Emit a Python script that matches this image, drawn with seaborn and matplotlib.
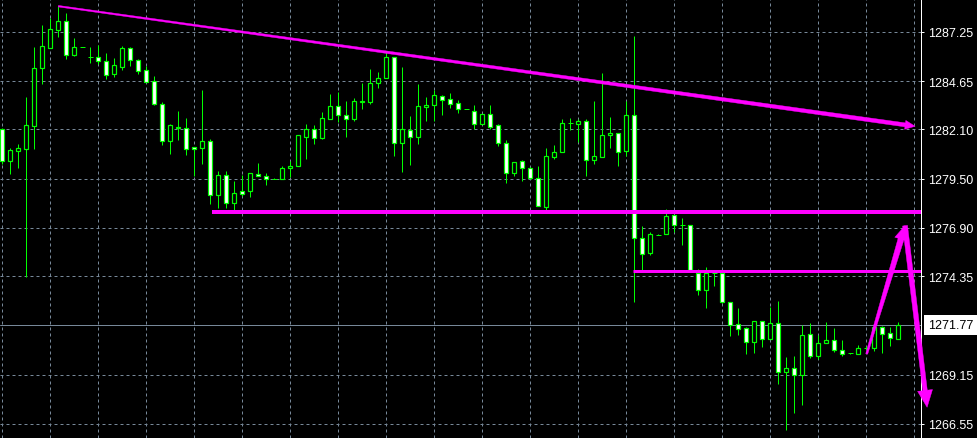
"""
Candlestick chart (MT4 style, green on black) with hand-drawn trend and
support lines plus the two projected-move arrows.
"""
import numpy as np
import pandas as pd
import matplotlib
matplotlib.use("Agg")
import matplotlib.pyplot as plt
from matplotlib.patches import Polygon
from matplotlib.transforms import IdentityTransform
import seaborn as sns

# ---- candles ----
opens = [1282.13, 1280.45, 1280.98, 1281.09, 1282.30, 1285.35, 1286.42, 1287.37, 1287.82, 1286.05,
         1286.44, 1285.91, 1285.91, 1285.70, 1285.05, 1285.42, 1286.40, 1285.77, 1285.24, 1284.66,
         1283.45, 1281.48, 1282.18, 1282.17, 1281.16, 1281.14, 1281.48, 1278.66, 1279.68, 1278.24,
         1278.84, 1278.84, 1279.74, 1279.63, 1279.49, 1279.47, 1280.05, 1280.16, 1281.72, 1282.11,
         1281.64, 1282.64, 1283.33, 1282.85, 1282.64, 1283.54, 1283.54, 1284.54, 1284.80, 1285.91,
         1281.37, 1282.06, 1281.69, 1283.27, 1283.38, 1283.85, 1283.70, 1283.48, 1283.17, 1283.09,
         1282.37, 1282.90, 1282.32, 1281.37, 1279.79, 1280.42, 1280.05, 1279.52, 1277.99, 1280.66,
         1280.90, 1282.43, 1282.37, 1282.53, 1280.47, 1280.63, 1281.80, 1281.90, 1280.95, 1282.85,
         1276.36, 1275.56, 1276.51, 1276.60, 1277.57, 1277.04, 1277.04, 1274.51, 1273.61, 1274.51,
         1274.51, 1272.98, 1271.81, 1271.60, 1270.86, 1271.97, 1271.02, 1271.87, 1269.28, 1269.49,
         1269.12, 1271.29, 1270.13, 1270.81, 1270.97, 1270.44, 1270.28, 1270.23, 1270.58, 1270.58,
         1271.66, 1271.34, 1271.02]
highs = [1282.20, 1281.12, 1281.33, 1283.83, 1286.47, 1287.62, 1287.99, 1288.61, 1288.25, 1286.93,
         1286.44, 1286.47, 1286.58, 1286.14, 1285.88, 1286.51, 1286.47, 1285.83, 1285.45, 1284.91,
         1283.57, 1282.39, 1283.09, 1282.71, 1281.16, 1284.19, 1281.60, 1279.89, 1279.89, 1279.37,
         1279.68, 1279.79, 1280.33, 1279.79, 1279.54, 1280.17, 1280.44, 1281.80, 1282.39, 1282.34,
         1283.03, 1283.98, 1284.10, 1283.61, 1283.75, 1284.56, 1285.28, 1285.14, 1286.26, 1285.91,
         1285.40, 1282.80, 1284.49, 1283.80, 1284.17, 1283.91, 1284.03, 1283.66, 1283.17, 1283.38,
         1282.90, 1283.38, 1282.37, 1281.55, 1280.37, 1280.49, 1280.11, 1280.16, 1281.11, 1281.28,
         1282.64, 1282.69, 1282.64, 1282.64, 1283.59, 1285.08, 1282.75, 1281.90, 1283.59, 1287.04,
         1277.00, 1276.67, 1276.57, 1277.89, 1277.57, 1277.41, 1277.04, 1274.72, 1274.82, 1274.56,
         1274.51, 1272.98, 1272.68, 1271.66, 1271.97, 1271.97, 1272.71, 1273.04, 1270.07, 1270.13,
         1271.76, 1271.88, 1271.23, 1271.92, 1271.60, 1270.97, 1270.28, 1270.70, 1270.65, 1271.71,
         1271.71, 1271.66, 1271.92]
lows = [1280.28, 1279.75, 1280.07, 1274.30, 1281.09, 1284.50, 1286.42, 1287.00, 1285.83, 1285.98,
        1286.44, 1285.63, 1285.56, 1284.77, 1284.87, 1285.26, 1285.47, 1285.03, 1284.61, 1283.40,
        1281.30, 1280.81, 1281.56, 1280.77, 1279.63, 1280.28, 1278.17, 1277.96, 1277.96, 1277.85,
        1278.59, 1278.52, 1279.63, 1279.19, 1279.47, 1279.47, 1279.58, 1280.16, 1280.56, 1281.33,
        1281.58, 1282.64, 1282.48, 1281.72, 1282.53, 1283.20, 1283.45, 1284.31, 1284.80, 1280.72,
        1279.87, 1280.24, 1281.35, 1282.57, 1282.53, 1282.88, 1283.22, 1282.96, 1283.17, 1282.11,
        1282.37, 1282.14, 1281.25, 1279.26, 1279.66, 1279.40, 1279.49, 1278.05, 1277.87, 1280.56,
        1280.90, 1282.06, 1281.46, 1279.63, 1280.30, 1280.63, 1281.11, 1280.19, 1280.69, 1273.01,
        1274.68, 1275.46, 1276.51, 1276.57, 1276.67, 1276.02, 1274.67, 1273.38, 1272.69, 1273.85,
        1272.92, 1271.21, 1271.27, 1270.26, 1270.32, 1270.63, 1271.02, 1268.66, 1266.24, 1267.15,
        1267.57, 1270.02, 1269.97, 1270.81, 1270.34, 1270.16, 1270.23, 1270.23, 1270.47, 1270.42,
        1270.28, 1270.66, 1271.02]
closes = [1280.45, 1281.02, 1281.12, 1282.34, 1285.35, 1286.51, 1287.41, 1287.82, 1286.05, 1286.46,
          1286.44, 1285.91, 1285.73, 1284.99, 1285.49, 1286.40, 1285.79, 1285.21, 1284.63, 1283.47,
          1281.48, 1282.32, 1282.23, 1281.06, 1281.06, 1281.48, 1278.63, 1279.68, 1278.20, 1278.73,
          1278.71, 1279.79, 1279.63, 1279.47, 1279.49, 1280.07, 1280.16, 1281.80, 1282.11, 1281.64,
          1282.69, 1283.33, 1282.85, 1282.64, 1283.59, 1283.61, 1284.56, 1284.80, 1285.91, 1281.37,
          1282.11, 1281.69, 1283.33, 1283.38, 1283.91, 1283.64, 1283.43, 1283.17, 1283.17, 1282.37,
          1282.90, 1282.25, 1281.37, 1279.79, 1280.37, 1280.05, 1279.52, 1278.05, 1280.69, 1280.90,
          1282.43, 1282.43, 1282.53, 1280.47, 1280.69, 1281.80, 1281.90, 1280.90, 1282.85, 1276.36,
          1275.51, 1276.57, 1276.51, 1277.52, 1277.04, 1277.04, 1274.67, 1273.61, 1274.51, 1274.51,
          1272.98, 1271.79, 1271.55, 1270.86, 1271.97, 1271.02, 1271.87, 1269.28, 1269.49, 1269.12,
          1271.23, 1270.13, 1270.81, 1270.97, 1270.44, 1270.23, 1270.28, 1270.55, 1270.58, 1271.66,
          1271.29, 1271.07, 1271.77]

price_ticks = [1287.25, 1284.65, 1282.10, 1279.50, 1276.90, 1274.35, 1269.15, 1266.55]
last_price = 1271.77

# ---- drawn objects (bar index, price) ----
trend_x, trend_y = [7.0, 114.1], [1288.61, 1282.27]
support_hi, support_hi_from = 1277.75, 26.2
support_lo, support_lo_from = 1274.61, 78.8
up_x, up_y = [108.05, 112.84], [1270.25, 1277.02]
down_x, down_y = [112.84, 115.6], [1277.02, 1267.43]

LIME, MAGENTA, GRID = "#00ff00", "#ff00ff", "#778899"
PX = 72 / 100  # one pixel in points

df = pd.DataFrame({"open": opens, "high": highs, "low": lows, "close": closes})
df["bar"] = np.arange(len(df))

sns.set_theme(style="dark", rc={"figure.facecolor": "black", "axes.facecolor": "black",
                                "savefig.facecolor": "black"})
plt.rcParams["font.family"] = ["Liberation Sans", "DejaVu Sans"]

fig = plt.figure(figsize=(9.77, 4.39), dpi=100)
ax = fig.add_axes([0, 0, 920.7 / 977, 1])
ax.set_xlim(-0.29, 114.8)
ax.set_ylim(1265.81, 1288.99)

# grid
for p in price_ticks:
    ax.axhline(p, color=GRID, lw=PX, ls=(0, (3, 3)), zorder=0)
for b in range(0, 115, 6):
    ax.axvline(b, color=GRID, lw=PX, ls=(0, (3, 3)), zorder=0)
ax.axhline(last_price, color=GRID, lw=PX, zorder=1)

# candles
ax.vlines(df["bar"], df["low"], df["high"], color=LIME, lw=PX, zorder=2)
body = df[(df["close"] - df["open"]).abs() >= 0.03]
doji = df[(df["close"] - df["open"]).abs() < 0.03]
bear = body["close"] < body["open"]
ax.bar(body["bar"], (body["close"] - body["open"]).abs(),
       bottom=body[["open", "close"]].min(axis=1), width=0.48,
       color=np.where(bear, "white", "black"), edgecolor=LIME, lw=1.2 * PX, zorder=3)
ax.hlines(doji["close"], doji["bar"] - 0.3, doji["bar"] + 0.3, color=LIME, lw=PX, zorder=3)

# support lines
ax.hlines(support_hi, support_hi_from, 114.8, color=MAGENTA, lw=4 * PX, zorder=4)
ax.hlines(support_lo, support_lo_from, 114.8, color=MAGENTA, lw=3 * PX, zorder=4)


def taper_arrow(xs, ys, w0, w1, hl, hw):
    p0, p1 = ax.transData.transform(np.column_stack([xs, ys]))
    u = (p1 - p0) / np.hypot(*(p1 - p0))
    n = np.array([-u[1], u[0]])
    base = p1 - u * hl
    pts = [p0 + n * w0 / 2, base + n * w1 / 2, base + n * hw / 2, p1,
           base - n * hw / 2, base - n * w1 / 2, p0 - n * w0 / 2]
    ax.add_patch(Polygon(pts, closed=True, transform=IdentityTransform(), fc=MAGENTA,
                         ec=MAGENTA, lw=0.3, clip_on=False, zorder=6))


fig.canvas.draw()
taper_arrow(trend_x, trend_y, 1.5, 4, 10, 9)
taper_arrow(up_x, up_y, 2, 6, 14, 13)
taper_arrow(down_x, down_y, 5, 4.5, 17, 15)

# axis
for s in ["left", "top", "bottom"]:
    ax.spines[s].set_visible(False)
ax.spines["right"].set_color("white")
ax.spines["right"].set_linewidth(PX)
ax.set_xticks([])
ax.yaxis.tick_right()
ax.set_yticks(price_ticks)
ax.set_yticklabels([f"{p:.2f}" for p in price_ticks])
ax.tick_params(axis="y", colors="white", labelsize=9, length=3 * PX, width=PX,
               pad=4 * PX, right=True, left=False)
ax.grid(False)
ax.annotate(f"{last_price:.2f}", xy=(1, last_price), xycoords=ax.get_yaxis_transform(),
            xytext=(7 * PX, 0), textcoords="offset points", ha="left", va="center",
            fontsize=9, color="black", annotation_clip=False,
            bbox=dict(boxstyle="square,pad=0.32", fc="white", ec="none"))

fig.savefig("out.png", dpi=100)
